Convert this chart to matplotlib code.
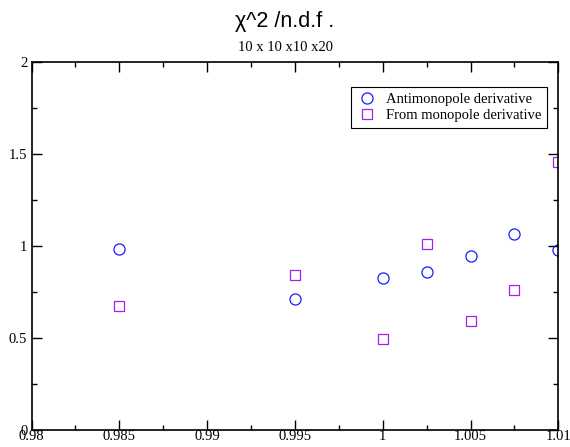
import matplotlib
matplotlib.use("Agg")

import matplotlib.pyplot as plt
from matplotlib.ticker import MultipleLocator

# ---------------------------------------------------------------------------
# Data
# ---------------------------------------------------------------------------
beta = [0.985, 0.995, 1.0, 1.0025, 1.005, 1.0075, 1.01]
antimonopole = [0.982, 0.710, 0.824, 0.859, 0.944, 1.064, 0.977]
from_monopole = [0.670, 0.843, 0.491, 1.010, 0.592, 0.761, 1.454]

TITLE = "χ^2 /n.d.f ."
SUBTITLE = "10 x 10 x10 x20"
LABELS = ["Antimonopole derivative", "From monopole derivative"]

SERIF = ["Liberation Serif", "DejaVu Serif"]
SANS = ["Liberation Sans", "DejaVu Sans"]

# ---------------------------------------------------------------------------
# Figure
# ---------------------------------------------------------------------------
fig = plt.figure(figsize=(5.7, 4.47), dpi=100)
ax = fig.add_axes([0.0553, 0.0391, 0.9242, 0.8219])

ax.plot(beta, antimonopole, linestyle="None", marker="o", markersize=8,
        markerfacecolor="none", markeredgecolor="#1a1aff",
        markeredgewidth=0.9, label=LABELS[0])
ax.plot(beta, from_monopole, linestyle="None", marker="s", markersize=7,
        markerfacecolor="none", markeredgecolor="#a020f0",
        markeredgewidth=0.9, label=LABELS[1])

ax.set_xlim(0.98, 1.01)
ax.set_ylim(0, 2)
ax.xaxis.set_minor_locator(MultipleLocator(0.0025))
ax.yaxis.set_minor_locator(MultipleLocator(0.25))
ax.set_xticks([0.98, 0.985, 0.99, 0.995, 1.0, 1.005, 1.01])
ax.set_xticklabels(["0.98", "0.985", "0.99", "0.995", "1", "1.005", "1.01"])
ax.set_yticks([0, 0.5, 1, 1.5, 2])
ax.set_yticklabels(["0", "0.5", "1", "1.5", "2"])

ax.tick_params(which="both", direction="in", top=True, right=True,
               width=1.0, color="black")
ax.tick_params(which="major", length=7)
ax.tick_params(which="minor", length=3.6)
ax.tick_params(axis="x", pad=0.5)
ax.tick_params(axis="y", pad=3)
for lbl in ax.get_xticklabels() + ax.get_yticklabels():
    lbl.set_family(SERIF)
    lbl.set_fontsize(10.5)
for sp in ax.spines.values():
    sp.set_linewidth(1.2)

leg = ax.legend(loc="upper right", bbox_to_anchor=(0.979, 0.932),
                borderaxespad=0,
                prop={"family": SERIF, "size": 10.5}, frameon=True,
                fancybox=False, edgecolor="black", framealpha=1,
                handletextpad=0.6, borderpad=0.4, labelspacing=0.2,
                handlelength=1.4)
leg.get_frame().set_linewidth(0.8)

fig.text(0.5, 0.9396, TITLE, ha="center", va="baseline", fontsize=15.5,
         family=SANS)
fig.text(0.5, 0.886, SUBTITLE, ha="center", va="baseline", fontsize=10.5,
         family=SERIF)

fig.savefig("out.png", dpi=100, facecolor="white")
